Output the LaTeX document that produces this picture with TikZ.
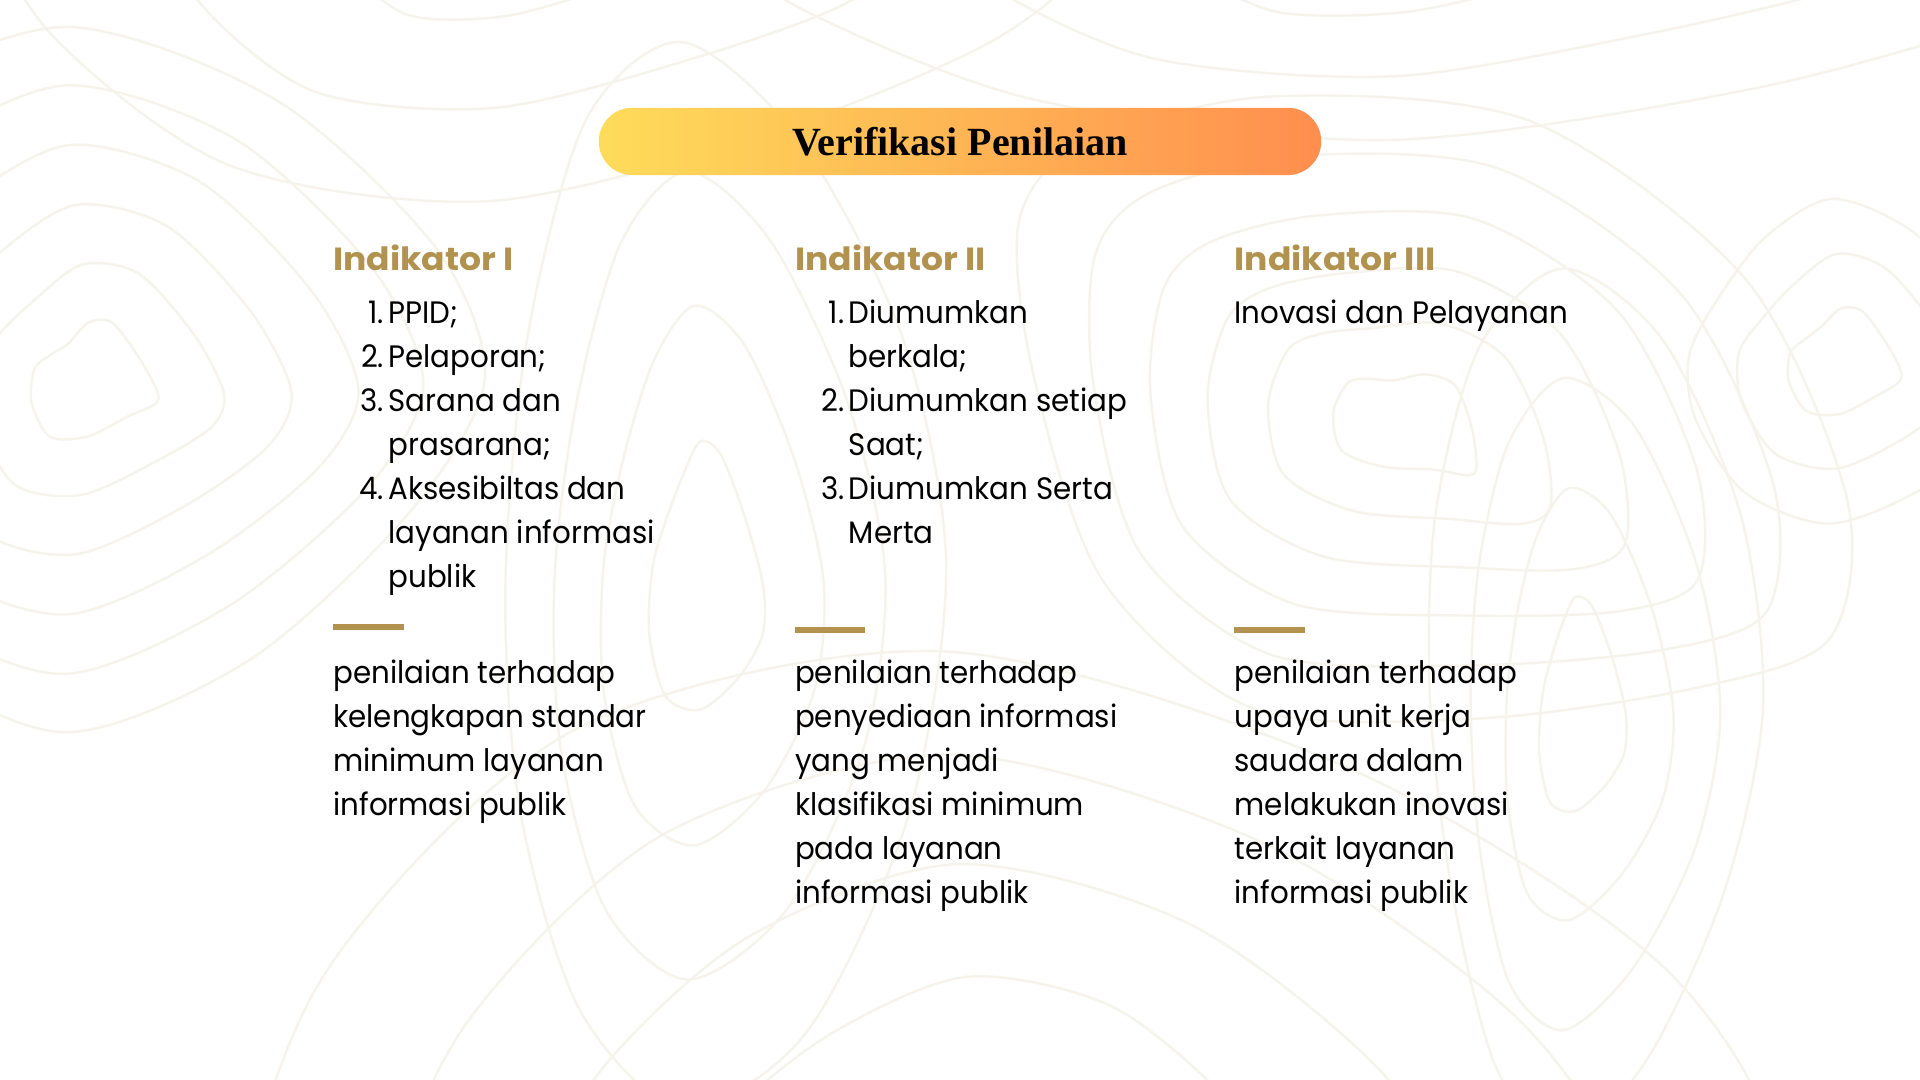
\documentclass[tikz,border=0pt]{standalone}
\usepackage{fontspec}
\setmainfont[FakeStretch=0.945]{Poppins}
\newfontfamily\headfont[FakeStretch=1.08]{Poppins}
\newfontfamily\titlefont{Liberation Serif}
\definecolor{gold}{HTML}{B1924F}
\definecolor{topo}{HTML}{F6F3EC}
\definecolor{pillL}{HTML}{FEDC5A}
\definecolor{pillR}{HTML}{FF8E4F}
\tikzset{
  body/.style={font=\fontsize{15.5}{20}\selectfont, anchor=base west, inner sep=0pt, text=black},
  num/.style={body, anchor=base east},
  head/.style={font=\headfont\bfseries\fontsize{16}{20}\selectfont, text=gold, anchor=base west, inner sep=0pt},
  titletext/.style={font=\titlefont\bfseries\fontsize{20}{24}\selectfont, anchor=base, inner sep=0pt, text=black},
  rulebar/.style={draw=gold, line width=2.8pt},
  contour/.style={draw=topo, line width=1.2pt},
}
\begin{document}
\begin{tikzpicture}[x=0.61224pt,y=-0.61224pt]
\useasboundingbox (0,0) rectangle (1568,882);
\fill[white] (0,0) rectangle (1568,882);
% ---------- background contours ----------
\begin{scope}
\clip (0,0) rectangle (1568,882);
% left heart
\foreach \k in {1,...,6}
  \draw[contour] plot[smooth cycle, domain=0:330, samples=12, variable=\t]
   ({75+\k*50*cos(\t)+(6+3*\k)*sin(2*\t+20*\k)}, {310+\k*44*sin(\t)+(6+3*\k)*cos(3*\t+15*\k)});
% right tilted oval
\begin{scope}[shift={(1150,345)}, rotate=-25]
\foreach \k in {1,...,6}
  \draw[contour] plot[smooth cycle, domain=0:330, samples=12, variable=\t]
   ({\k*62*cos(\t)+(5+4*\k)*sin(2*\t+25*\k)}, {\k*40*sin(\t)+(5+4*\k)*cos(3*\t+10*\k)});
\end{scope}
% right vertical oval
\foreach \k in {1,...,4}
  \draw[contour] plot[smooth cycle, domain=0:330, samples=12, variable=\t]
   ({1290+\k*34*cos(\t)+(4+3*\k)*sin(2*\t+30*\k)}, {575+\k*85*sin(\t)+(4+3*\k)*cos(3*\t+20*\k)});
% far right small loop
\foreach \k in {1,...,3}
  \draw[contour] plot[smooth cycle, domain=0:330, samples=12, variable=\t]
   ({1505+\k*45*cos(\t)+(4+3*\k)*sin(2*\t+15*\k)}, {295+\k*40*sin(\t)+(4+3*\k)*cos(3*\t+25*\k)});
% central loop
\foreach \k in {1,...,4}
  \draw[contour] plot[smooth cycle, domain=0:330, samples=12, variable=\t]
   ({575+\k*45*cos(\t)+(6+3*\k)*sin(2*\t+20*\k)}, {470+\k*105*sin(\t)+(6+3*\k)*cos(3*\t+30*\k)});
% bottom arcs
\foreach \k in {1,...,5}
  \draw[contour] plot[smooth cycle, domain=0:330, samples=12, variable=\t]
   ({800+\k*125*cos(\t)+(8+4*\k)*sin(2*\t+20*\k)}, {980+\k*85*sin(\t)+(8+4*\k)*cos(3*\t+25*\k)});
% top arcs
\foreach \k in {1,...,3}
  \draw[contour] plot[smooth cycle, domain=0:330, samples=12, variable=\t]
   ({1150+\k*190*cos(\t)+(8+4*\k)*sin(2*\t+20*\k)}, {-40+\k*45*sin(\t)+(8+4*\k)*cos(3*\t+25*\k)});
\foreach \k in {1,...,3}
  \draw[contour] plot[smooth cycle, domain=0:330, samples=12, variable=\t]
   ({420+\k*150*cos(\t)+(8+4*\k)*sin(2*\t+35*\k)}, {-60+\k*70*sin(\t)+(8+4*\k)*cos(3*\t+15*\k)});
\end{scope}
% ---------- title pill ----------
\shade[left color=pillL, right color=pillR, rounded corners=16.8pt] (489,88) rectangle (1079,143);
\node[titletext] (title) at (784,126.6) {Verifikasi Penilaian};
% ---------- column 1 ----------
\node[head] (h1) at (272,221) {Indikator I};
\node[num]  (c1n1) at (314,264) {1.};
\node[body] (c1l1) at (317,264) {PPID;};
\node[num]  (c1n2) at (314,300) {2.};
\node[body] (c1l2) at (317,300) {Pelaporan;};
\node[num]  (c1n3) at (314,336) {3.};
\node[body] (c1l3) at (317,336) {Sarana dan};
\node[body] (c1l4) at (317,372) {prasarana;};
\node[num]  (c1n4) at (314,408) {4.};
\node[body] (c1l5) at (317,408) {Aksesibiltas dan};
\node[body] (c1l6) at (317,444) {layanan informasi};
\node[body] (c1l7) at (317,480) {publik};
\draw[rulebar] (272,512) -- (330,512);
\foreach \s [count=\i] in {penilaian terhadap, kelengkapan standar, minimum layanan, informasi publik}
  \node[body] (c1p\i) at (272,{558+(\i-1)*36}) {\s};
% ---------- column 2 ----------
\node[head] (h2) at (649,221) {Indikator II};
\node[num]  (c2n1) at (690,264) {1.};
\node[body] (c2l1) at (693,264) {Diumumkan};
\node[body] (c2l2) at (693,300) {berkala;};
\node[num]  (c2n2) at (690,336) {2.};
\node[body] (c2l3) at (693,336) {Diumumkan setiap};
\node[body] (c2l4) at (693,372) {Saat;};
\node[num]  (c2n3) at (690,408) {3.};
\node[body] (c2l5) at (693,408) {Diumumkan Serta};
\node[body] (c2l6) at (693,444) {Merta};
\draw[rulebar] (649,514.5) -- (706,514.5);
\foreach \s [count=\i] in {penilaian terhadap, penyediaan informasi, yang menjadi, klasifikasi minimum, pada layanan, informasi publik}
  \node[body] (c2p\i) at (649,{558+(\i-1)*36}) {\s};
% ---------- column 3 ----------
\node[head] (h3) at (1008,221) {Indikator III};
\node[body] (c3l1) at (1008,264) {Inovasi dan Pelayanan};
\draw[rulebar] (1008,514.5) -- (1066,514.5);
\foreach \s [count=\i] in {penilaian terhadap, upaya unit kerja, saudara dalam, melakukan inovasi, terkait layanan, informasi publik}
  \node[body] (c3p\i) at (1008,{558+(\i-1)*36}) {\s};
\end{tikzpicture}
\end{document}
